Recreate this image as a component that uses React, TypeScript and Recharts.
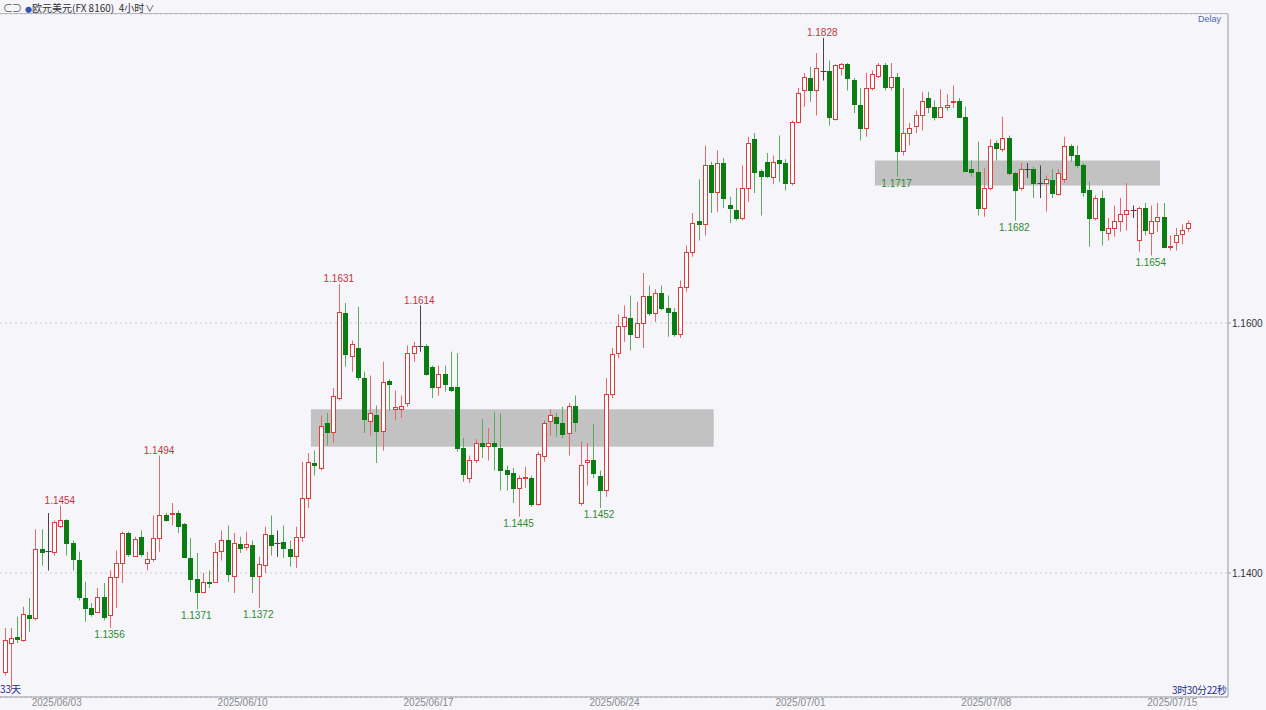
import { Bar, CartesianGrid, ComposedChart, ReferenceArea, ReferenceDot, ReferenceLine, XAxis, YAxis } from "recharts";

// EUR/USD 4h candles, 2025/06/02 - 2025/07/15
const opens = [
  1.1321, 1.1344, 1.1349, 1.1346, 1.1366, 1.1364, 1.1419, 1.1418, 1.1417, 1.1438, 1.1442, 1.1424, 1.141, 1.138, 1.1372, 1.1369,
  1.1381, 1.1366, 1.1397, 1.1408, 1.1432, 1.1414, 1.1429, 1.1408, 1.1411, 1.1428, 1.1446, 1.1447, 1.1448, 1.1439, 1.1412, 1.1395,
  1.1385, 1.1393, 1.1393, 1.1418, 1.1426, 1.1398, 1.1423, 1.1421, 1.1422, 1.1398, 1.1406, 1.143, 1.1424, 1.1425, 1.1419, 1.1414,
  1.1429, 1.146, 1.1488, 1.1484, 1.152, 1.1513, 1.154, 1.1608, 1.1574, 1.158, 1.1556, 1.1522, 1.1526, 1.1514, 1.1554, 1.1531,
  1.1531, 1.1536, 1.1576, 1.1582, 1.1582, 1.1565, 1.1549, 1.1559, 1.1549, 1.1549, 1.15, 1.1476, 1.149, 1.1504, 1.1502, 1.1504,
  1.15, 1.1482, 1.148, 1.1468, 1.1476, 1.1476, 1.1455, 1.1494, 1.1522, 1.1525, 1.152, 1.1512, 1.1534, 1.1456, 1.1489, 1.149,
  1.1478, 1.1466, 1.1543, 1.1576, 1.1598, 1.1604, 1.1589, 1.16, 1.1622, 1.1608, 1.1624, 1.1612, 1.1609, 1.1591, 1.1629, 1.1657,
  1.1682, 1.1679, 1.1726, 1.1705, 1.1728, 1.1694, 1.169, 1.1684, 1.1708, 1.1747, 1.1722, 1.1729, 1.1717, 1.173, 1.1728, 1.1712,
  1.1761, 1.1786, 1.1796, 1.1786, 1.1802, 1.1802, 1.1763, 1.1804, 1.1807, 1.1794, 1.1774, 1.1756, 1.1788, 1.1798, 1.1806, 1.1789,
  1.1797, 1.1738, 1.1752, 1.1758, 1.1766, 1.178, 1.1773, 1.1765, 1.1773, 1.1777, 1.1778, 1.1765, 1.1723, 1.1721, 1.1692, 1.1708,
  1.1744, 1.1739, 1.1748, 1.172, 1.1708, 1.1723, 1.1723, 1.1712, 1.1712, 1.1714, 1.1703, 1.1715, 1.1742, 1.1734, 1.1726, 1.1706,
  1.1684, 1.17, 1.1672, 1.1676, 1.1682, 1.1687, 1.169, 1.1666, 1.1692, 1.1672, 1.1682, 1.1685, 1.1661, 1.1665, 1.1671, 1.1676,
];
const highs = [
  1.1356, 1.1356, 1.1365, 1.1373, 1.138, 1.1435, 1.1435, 1.1448, 1.1442, 1.1454, 1.1443, 1.1426, 1.1417, 1.1393, 1.1376, 1.1388,
  1.1392, 1.1402, 1.1418, 1.1433, 1.1433, 1.1429, 1.1434, 1.1417, 1.1446, 1.1494, 1.1448, 1.1456, 1.145, 1.144, 1.1428, 1.1416,
  1.14, 1.1402, 1.1424, 1.1434, 1.1438, 1.1432, 1.1429, 1.1433, 1.1426, 1.1413, 1.1437, 1.1446, 1.1434, 1.1438, 1.1426, 1.1437,
  1.1489, 1.1496, 1.1498, 1.1526, 1.1528, 1.1548, 1.1631, 1.1616, 1.1586, 1.1613, 1.1561, 1.1558, 1.1534, 1.1569, 1.1555, 1.1546,
  1.1542, 1.1582, 1.1585, 1.1614, 1.1583, 1.1566, 1.1566, 1.1566, 1.1577, 1.1576, 1.1508, 1.1494, 1.1507, 1.1523, 1.1516, 1.1529,
  1.1528, 1.1486, 1.1484, 1.1478, 1.1485, 1.1478, 1.1497, 1.1522, 1.1531, 1.1528, 1.1533, 1.1536, 1.1542, 1.1505, 1.1504, 1.1519,
  1.1482, 1.1556, 1.158, 1.1607, 1.1614, 1.1622, 1.1617, 1.164, 1.163, 1.1627, 1.163, 1.1622, 1.1612, 1.1634, 1.1662, 1.1688,
  1.1715, 1.1742, 1.1729, 1.1738, 1.1732, 1.1701, 1.1708, 1.1726, 1.1749, 1.1752, 1.1723, 1.1736, 1.1734, 1.175, 1.1731, 1.1762,
  1.1788, 1.18, 1.1805, 1.1816, 1.1828, 1.181, 1.1807, 1.1808, 1.1808, 1.1796, 1.1788, 1.18, 1.1802, 1.1808, 1.1808, 1.1808,
  1.18, 1.1788, 1.176, 1.177, 1.1785, 1.1785, 1.1778, 1.1787, 1.1783, 1.179, 1.178, 1.1773, 1.173, 1.1745, 1.1724, 1.1747,
  1.1746, 1.1765, 1.175, 1.1721, 1.1728, 1.1728, 1.1725, 1.1726, 1.1718, 1.1723, 1.1723, 1.1749, 1.1743, 1.1742, 1.1728, 1.1713,
  1.1702, 1.1706, 1.1684, 1.1694, 1.17, 1.1712, 1.1694, 1.1693, 1.1696, 1.1694, 1.1696, 1.1696, 1.167, 1.1676, 1.1679, 1.1682,
];
const lows = [
  1.1318, 1.1306, 1.1344, 1.1345, 1.1353, 1.1362, 1.1406, 1.1402, 1.1414, 1.1436, 1.1414, 1.1402, 1.1378, 1.1361, 1.1365, 1.1368,
  1.1362, 1.1356, 1.1372, 1.1392, 1.1413, 1.1413, 1.1413, 1.1402, 1.1409, 1.1417, 1.1441, 1.1438, 1.1432, 1.1412, 1.1385, 1.1371,
  1.1384, 1.1388, 1.1392, 1.141, 1.1393, 1.1384, 1.1416, 1.1418, 1.1384, 1.1372, 1.14, 1.1414, 1.1413, 1.1412, 1.1405, 1.1404,
  1.1425, 1.1452, 1.1478, 1.1482, 1.1502, 1.1504, 1.1538, 1.1565, 1.1561, 1.1554, 1.1512, 1.151, 1.1488, 1.1498, 1.153, 1.1522,
  1.1524, 1.1533, 1.1569, 1.1577, 1.1558, 1.154, 1.1542, 1.1545, 1.1545, 1.1497, 1.1473, 1.1472, 1.1488, 1.1492, 1.149, 1.1482,
  1.1466, 1.1466, 1.1456, 1.1445, 1.1468, 1.1453, 1.1454, 1.1489, 1.151, 1.1509, 1.1508, 1.1494, 1.1513, 1.1454, 1.147, 1.1476,
  1.1452, 1.1461, 1.154, 1.1572, 1.1585, 1.1578, 1.1588, 1.158, 1.1606, 1.1601, 1.161, 1.1589, 1.1589, 1.1588, 1.1625, 1.1653,
  1.1666, 1.167, 1.1688, 1.1689, 1.1692, 1.168, 1.1682, 1.1682, 1.1697, 1.1704, 1.1686, 1.1716, 1.1711, 1.1713, 1.1706, 1.171,
  1.176, 1.1773, 1.1777, 1.1766, 1.1794, 1.1758, 1.1762, 1.1798, 1.1786, 1.1768, 1.1746, 1.1749, 1.1786, 1.1796, 1.1786, 1.1786,
  1.1717, 1.1734, 1.1742, 1.1752, 1.1754, 1.1768, 1.1762, 1.1764, 1.177, 1.1772, 1.1764, 1.1721, 1.1717, 1.1686, 1.1685, 1.1706,
  1.173, 1.1737, 1.1718, 1.1682, 1.1706, 1.1716, 1.17, 1.17, 1.1689, 1.17, 1.1702, 1.1712, 1.1729, 1.1724, 1.1701, 1.1661,
  1.1682, 1.1662, 1.1666, 1.1669, 1.1673, 1.1674, 1.1684, 1.1657, 1.167, 1.1654, 1.1673, 1.166, 1.1658, 1.1658, 1.1663, 1.1673,
];
const closes = [
  1.1346, 1.1348, 1.1347, 1.1367, 1.1364, 1.1419, 1.1417, 1.1418, 1.1441, 1.1442, 1.1424, 1.1411, 1.1381, 1.1372, 1.1367, 1.1381,
  1.1365, 1.1397, 1.1408, 1.1432, 1.1415, 1.1427, 1.1415, 1.1411, 1.1428, 1.1446, 1.1442, 1.1448, 1.1438, 1.1413, 1.1395, 1.1385,
  1.1393, 1.1392, 1.1417, 1.1426, 1.1399, 1.1424, 1.142, 1.1423, 1.1398, 1.1407, 1.1431, 1.1422, 1.1424, 1.142, 1.1414, 1.1429,
  1.146, 1.1489, 1.1486, 1.1518, 1.1513, 1.1542, 1.1609, 1.1575, 1.1583, 1.1557, 1.1523, 1.1528, 1.1514, 1.1553, 1.1551, 1.1533,
  1.1534, 1.1576, 1.1582, 1.1582, 1.1559, 1.1549, 1.1559, 1.1551, 1.1546, 1.15, 1.1479, 1.149, 1.1504, 1.1502, 1.1504, 1.1502,
  1.1482, 1.1479, 1.1468, 1.1476, 1.1477, 1.1455, 1.1495, 1.152, 1.1526, 1.152, 1.1511, 1.1534, 1.1521, 1.1486, 1.149, 1.148,
  1.1466, 1.1543, 1.1575, 1.1598, 1.1605, 1.1591, 1.16, 1.1622, 1.1608, 1.1624, 1.1612, 1.1609, 1.1591, 1.1629, 1.1657, 1.168,
  1.1679, 1.1726, 1.1705, 1.1728, 1.17, 1.1692, 1.1684, 1.1708, 1.1744, 1.1721, 1.1718, 1.1718, 1.1729, 1.1728, 1.1712, 1.1761,
  1.1784, 1.1797, 1.1786, 1.1804, 1.1802, 1.1765, 1.1806, 1.1807, 1.1796, 1.1775, 1.1756, 1.1788, 1.1799, 1.1806, 1.1789, 1.1797,
  1.1738, 1.1752, 1.1756, 1.1766, 1.1778, 1.1773, 1.1765, 1.1773, 1.1774, 1.1778, 1.1765, 1.1722, 1.1721, 1.1692, 1.1708, 1.1742,
  1.174, 1.1748, 1.172, 1.1706, 1.1723, 1.1723, 1.1712, 1.1712, 1.1715, 1.1704, 1.172, 1.1742, 1.1734, 1.1726, 1.1705, 1.1684,
  1.17, 1.1674, 1.1676, 1.1682, 1.1687, 1.169, 1.169, 1.1692, 1.1674, 1.1682, 1.1685, 1.1661, 1.1662, 1.167, 1.1674, 1.168,
];

const dateTickIdx = [8, 38, 68, 98, 128, 158, 188];
const dateLabels = ["2025/06/03", "2025/06/10", "2025/06/17", "2025/06/24", "2025/07/01", "2025/07/08", "2025/07/15"];
const priceTicks = [1.14, 1.16];

// marked swing highs / lows
const peakIdx = [9, 25, 54, 67, 132];
const peakVals = [1.1454, 1.1494, 1.1631, 1.1614, 1.1828];
const troughIdx = [17, 31, 41, 83, 96, 144, 163, 185];
const troughVals = [1.1356, 1.1371, 1.1372, 1.1445, 1.1452, 1.1717, 1.1682, 1.1654];

// grey consolidation boxes
const zoneFrom = [50, 141];
const zoneTo = [114, 186];
const zoneLow = [1.1501, 1.171];
const zoneHigh = [1.1531, 1.173];

const UP = "#e03a3a";
const UP_WICK = "#e36a6a";
const DOWN = "#0a7d12";
const DOWN_WICK = "#5aab5e";
const BG = "#f5f5fa";

const candles = opens.map((o, i) => ({
  i,
  o,
  h: highs[i],
  l: lows[i],
  c: closes[i],
  range: [lows[i], highs[i]],
}));

function Candle(props: any) {
  const { x, y, width, height, payload } = props;
  if (x == null || y == null) return null;
  const { o, h, l, c } = payload;
  const top = Math.min(y, y + height);
  const bottom = Math.max(y, y + height);
  const k = h === l ? 0 : (bottom - top) / (h - l);
  const yO = top + (h - o) * k;
  const yC = top + (h - c) * k;
  const cx = Math.round(x + width / 2) + 0.5;
  const bTop = Math.round(Math.min(yO, yC)) + 0.5;
  const bBot = Math.max(Math.round(Math.max(yO, yC)) + 0.5, bTop + 1);
  const left = cx - 2;

  if (o === c) {
    return (
      <g>
        <line x1={cx} x2={cx} y1={top} y2={bottom} stroke="#444" />
        <line x1={cx - 3} x2={cx + 3} y1={bTop} y2={bTop} stroke="#444" />
      </g>
    );
  }
  const up = c > o;
  return (
    <g>
      <line x1={cx} x2={cx} y1={top} y2={bottom} stroke={up ? UP_WICK : DOWN_WICK} />
      <rect x={left} y={bTop} width={4} height={bBot - bTop} fill={up ? "#ffffff" : DOWN} stroke={up ? UP : DOWN} />
    </g>
  );
}

function DateTick(props: any) {
  const { x, y, payload } = props;
  const k = dateTickIdx.indexOf(payload.value);
  return (
    <text x={x + 3} y={y} dy="0.71em" textAnchor="middle" fontSize={10} fill="#8a8a8a" fontFamily="Liberation Sans, Arial, sans-serif">
      {k >= 0 ? dateLabels[k] : ""}
    </text>
  );
}

function PriceMarker(props: any) {
  const { x2, y1 } = props;
  if (x2 == null) return null;
  return <line x1={x2 - 15} x2={x2} y1={y1} y2={y1} stroke="#2a2a8a" strokeWidth={1} />;
}

export default function App() {
  const last = closes[closes.length - 1];
  return (
    <div style={{ position: "fixed", left: 0, top: 0, width: 1266, height: 710, background: BG, overflow: "hidden" }}>
      <ComposedChart width={1266} height={710} data={candles} margin={{ top: 14, right: 0, bottom: 0, left: 0 }} barSize={5}>
        <CartesianGrid vertical={false} stroke="#c9c9cf" strokeDasharray="2 3" />
        <XAxis
          dataKey="i"
          type="category"
          ticks={dateTickIdx}
          interval={0}
          tick={<DateTick />}
          tickSize={0}
          tickMargin={2}
          height={13}
          padding={{ left: 1, right: 37 }}
          stroke="#9a9aa4"
        />
        <YAxis
          orientation="right"
          width={38}
          domain={[1.13008, 1.18472]}
          ticks={priceTicks}
          tickFormatter={(v: number) => v.toFixed(4)}
          tick={{ fontSize: 10, fill: "#333", fontFamily: "Liberation Sans, Arial, sans-serif" }}
          tickSize={3}
          tickMargin={1}
          stroke="#9a9aa4"
          allowDataOverflow
        />
        {zoneFrom.map((from, k) => (
          <ReferenceArea key={`z${k}`} x1={from} x2={zoneTo[k]} y1={zoneLow[k]} y2={zoneHigh[k]} fill="#c2c2c2" fillOpacity={1} stroke="none" />
        ))}
        <Bar dataKey="range" shape={<Candle />} isAnimationActive={false} />
        {peakIdx.map((idx, k) => (
          <ReferenceDot
            key={`p${k}`}
            x={idx}
            y={peakVals[k]}
            r={0}
            fill="none"
            stroke="none"
            label={{ value: peakVals[k].toFixed(4), position: "top", offset: 2, fill: "#c8323c", fontSize: 10, fontFamily: "Liberation Sans, Arial, sans-serif" }}
          />
        ))}
        {troughIdx.map((idx, k) => (
          <ReferenceDot
            key={`t${k}`}
            x={idx}
            y={troughVals[k]}
            r={0}
            fill="none"
            stroke="none"
            label={{ value: troughVals[k].toFixed(4), position: "bottom", offset: 3, fill: "#2e8b2e", fontSize: 10, fontFamily: "Liberation Sans, Arial, sans-serif" }}
          />
        ))}
        <ReferenceLine y={last} stroke="none" shape={<PriceMarker />} />
      </ComposedChart>

      <div style={{ position: "absolute", left: 0, top: 13, width: 1228, borderTop: "1px solid #b8b8c0" }} />
      <div
        style={{
          position: "absolute",
          left: 3,
          top: 2,
          height: 11,
          fontSize: 10,
          lineHeight: "11px",
          color: "#333",
          fontFamily: "Noto Sans CJK SC, sans-serif",
          whiteSpace: "pre",
        }}
      >
        <span style={{ color: "#555", letterSpacing: -1 }}>⊂⊃</span>
        <span style={{ color: "#3553b0", marginLeft: 4, fontSize: 7 }}>●</span>
        <span>欧元美元(FX 8160)  4小时</span>
        <span style={{ marginLeft: 1, fontSize: 9 }}>∨</span>
      </div>
      <div style={{ position: "absolute", left: 1198, top: 14, fontSize: 9, color: "#4a6aa8", fontFamily: "Liberation Sans, Arial, sans-serif" }}>
        Delay
      </div>
      <div style={{ position: "absolute", left: 0, top: 681, fontSize: 10, color: "#1f2f88", fontFamily: "Noto Sans CJK SC, sans-serif" }}>33天</div>
      <div style={{ position: "absolute", left: 1172, top: 682, fontSize: 10, color: "#1f2f88", fontFamily: "Noto Sans CJK SC, sans-serif", letterSpacing: -0.4 }}>
        3时30分22秒
      </div>
    </div>
  );
}
